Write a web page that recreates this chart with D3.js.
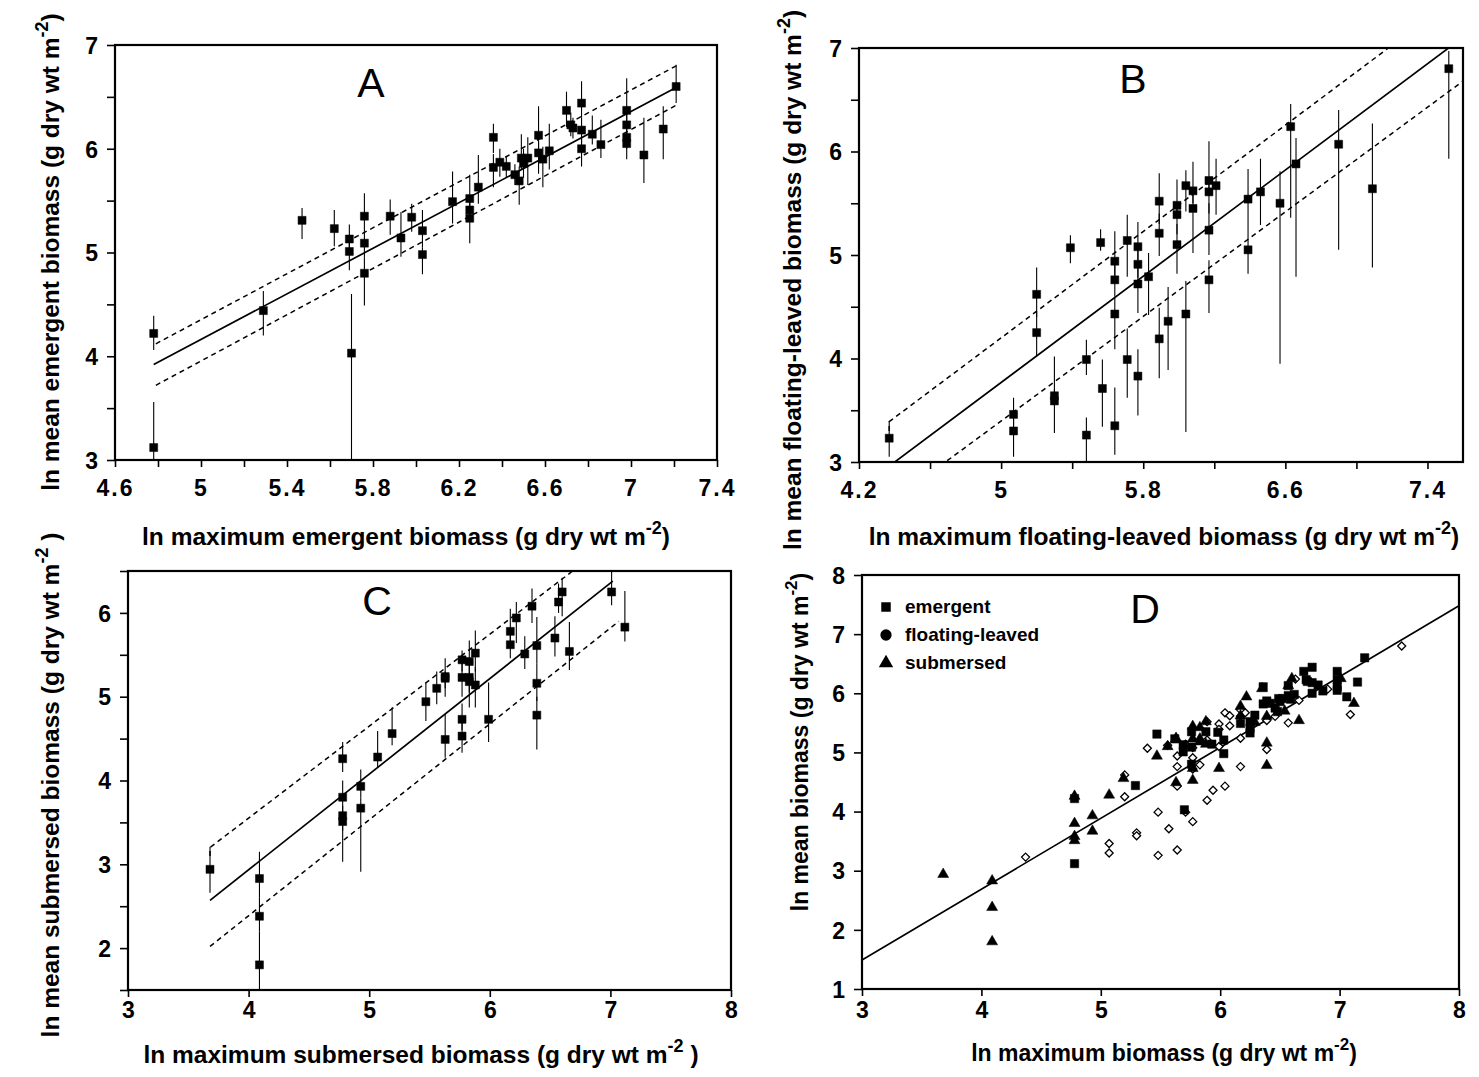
<!DOCTYPE html>
<html>
<head>
<meta charset="utf-8">
<script src="https://d3js.org/d3.v7.min.js"></script>
<style>
  body { margin: 0; background: #fff; }
  text { font-family: "Liberation Sans", Arial, Helvetica, sans-serif; fill: #000; }
</style>
</head>
<body>
<script>
// ---- panel A : emergent ----
var aX  = [4.78,4.78,5.29,5.47,5.62,5.69,5.69,5.70,5.76,5.76,5.76,5.88,5.93,5.98,6.03,6.03,6.17,6.25,6.25,6.25,6.29,6.36,6.36,6.39,6.42,6.46,6.48,6.49,6.50,6.52,6.57,6.57,6.59,6.62,6.70,6.72,6.73,6.77,6.77,6.77,6.82,6.86,6.98,6.98,6.98,6.98,7.06,7.15,7.21];
var aY  = [4.22,3.12,4.44,5.31,5.23,5.13,5.01,4.03,5.35,5.09,4.80,5.35,5.14,5.34,5.21,4.98,5.49,5.52,5.41,5.33,5.63,6.11,5.82,5.87,5.83,5.75,5.69,5.91,5.86,5.91,6.13,5.96,5.90,5.98,6.37,6.23,6.20,6.44,6.18,6.00,6.14,6.04,6.37,6.23,6.11,6.05,5.94,6.19,6.60];
var aLo = [4.06,3.00,4.20,5.13,5.06,5.00,4.83,3.00,5.20,4.95,4.49,5.17,4.96,5.20,5.05,4.79,5.28,5.40,5.30,5.09,5.47,5.96,5.63,5.73,5.72,5.65,5.46,5.80,5.72,5.65,6.00,5.76,5.63,5.80,6.21,6.12,6.10,6.30,6.05,5.83,6.04,5.91,6.25,6.12,6.00,5.90,5.67,5.90,6.44];
var aHi = [4.39,3.56,4.63,5.43,5.41,5.27,5.13,4.60,5.57,5.20,4.95,5.51,5.39,5.47,5.41,5.05,5.78,5.75,5.52,5.41,5.94,6.24,5.95,6.00,5.93,5.85,5.83,6.14,6.00,6.11,6.41,6.06,6.02,6.24,6.55,6.35,6.30,6.65,6.30,6.10,6.32,6.28,6.68,6.37,6.23,6.11,6.30,6.41,6.81];
var aFitX = [4.78, 7.21], aFitY = [3.92, 6.59];
var aBandX = [4.79, 7.22], aUpY = [4.12, 6.81], aLowY = [3.72, 6.43];
var aXTicks = [4.6,4.8,5.0,5.2,5.4,5.6,5.8,6.0,6.2,6.4,6.6,6.8,7.0,7.2,7.4];
var aXLabels = [4.6,5,5.4,5.8,6.2,6.6,7,7.4];

// ---- panel B : floating-leaved ----
var bX  = [4.37,5.07,5.07,5.20,5.20,5.30,5.30,5.39,5.48,5.48,5.56,5.57,5.64,5.64,5.64,5.64,5.71,5.71,5.77,5.77,5.77,5.77,5.83,5.89,5.89,5.89,5.94,5.99,5.99,5.99,6.04,6.04,6.08,6.08,6.17,6.17,6.17,6.17,6.21,6.39,6.39,6.46,6.57,6.63,6.66,6.90,7.09,7.52];
var bY  = [3.23,3.46,3.30,4.62,4.25,3.64,3.59,5.07,3.99,3.26,5.12,3.71,4.94,4.76,4.43,3.35,5.14,3.99,5.08,4.91,4.72,3.83,4.79,5.52,5.21,4.19,4.36,5.48,5.39,5.10,5.67,4.43,5.62,5.45,5.72,5.61,5.24,4.76,5.67,5.54,5.05,5.61,5.50,6.24,5.88,6.07,5.64,6.80];
var bLo = [3.05,3.35,3.05,4.40,4.02,3.55,3.28,4.92,3.84,2.90,5.04,3.34,4.80,4.60,4.09,3.07,4.79,3.62,4.95,4.78,4.44,3.45,4.42,5.30,4.99,3.81,3.89,5.40,5.20,4.82,5.42,3.29,5.50,5.02,5.62,5.40,5.00,4.44,5.39,5.30,4.82,5.29,3.95,5.36,4.79,5.05,4.88,5.93];
var bHi = [3.39,3.62,3.42,4.88,4.45,4.02,3.70,5.19,4.18,3.43,5.25,3.99,5.23,4.94,4.60,3.72,5.39,4.29,5.32,5.08,4.91,4.09,5.02,5.79,5.40,4.49,4.69,5.73,5.48,5.30,5.82,4.75,5.90,5.62,6.10,5.72,5.50,4.95,5.93,5.83,5.30,5.93,5.81,6.46,6.13,6.40,6.27,6.97];
var bFitX = [4.37, 7.55], bFitY = [2.96, 7.04];
var bUpX = [4.37, 4.37, 7.18], bUpY = [3.30, 3.39, 7.00];
var bLowX = [4.37, 7.60], bLowY = [2.60, 6.68];
var bXTicks = [4.2,4.6,5.0,5.4,5.8,6.2,6.6,7.0,7.4];
var bXLabels = [4.2,5,5.8,6.6,7.4];

// ---- panel C : submersed ----
var cX  = [3.68,4.09,4.09,4.09,4.78,4.78,4.78,4.78,4.93,4.93,5.07,5.19,5.47,5.56,5.63,5.63,5.63,5.77,5.77,5.77,5.77,5.83,5.83,5.83,5.88,5.88,5.99,6.17,6.17,6.22,6.29,6.35,6.39,6.39,6.39,6.54,6.57,6.60,6.66,7.01,7.12];
var cY  = [2.94,2.83,2.38,1.80,4.26,3.80,3.58,3.51,3.93,3.67,4.28,4.56,4.94,5.10,5.24,5.22,4.49,5.44,5.23,4.73,4.53,5.42,5.23,5.18,5.52,5.14,4.73,5.78,5.62,5.94,5.51,6.08,5.61,5.16,4.78,5.70,6.13,6.25,5.54,6.25,5.83];
var cLo = [2.66,2.60,2.20,1.50,4.10,3.60,3.40,3.03,3.80,2.91,4.15,4.42,4.71,4.91,5.10,5.00,4.27,5.30,5.00,4.60,4.33,5.30,5.05,4.87,5.30,4.87,4.46,5.62,5.46,5.64,5.33,5.88,5.40,4.95,4.37,5.48,6.00,5.96,5.32,6.09,5.66];
var cHi = [3.21,3.15,2.60,2.20,4.46,4.00,3.70,3.60,4.13,3.80,4.59,4.87,5.16,5.30,5.46,5.30,4.79,5.55,5.40,4.92,4.70,5.67,5.40,5.30,5.79,5.35,5.17,6.05,5.78,6.13,5.72,6.29,5.95,5.40,5.00,5.96,6.35,6.42,5.89,6.51,6.26];
var cFitX = [3.68, 7.02], cFitY = [2.57, 6.38];
var cUpX = [3.68, 3.68, 7.07], cUpY = [3.10, 3.20, 6.92];
var cLowX = [3.68, 7.07], cLowY = [2.02, 5.90];
var cXTicks = [3,4,5,6,7,8];
var cYTicks = [1.5,2,2.5,3,3.5,4,4.5,5,5.5,6,6.5];

// ---- panel D : all ----
var dFitX = [3, 8], dFitY = [1.49, 7.48];
var dXTicks = [3,4,5,6,7,8];
var dYTicks = [1,2,3,4,5,6,7,8];
var legendNames = ["emergent", "floating-leaved", "submersed"];

var yTicks37 = [3,3.5,4,4.5,5,5.5,6,6.5,7];

var width = 1479, height = 1077;
var svg = d3.select("body").append("svg")
    .attr("width", width).attr("height", height);

function zip(xs, ys, lo, hi) {
    return xs.map(function (v, i) {
        return { x: v, y: ys[i], lo: lo ? lo[i] : null, hi: hi ? hi[i] : null };
    });
}

function isLabel(d, labels) {
    return labels.some(function (l) { return Math.abs(l - d) < 1e-6; });
}

function makePanel(p) {
    var x = d3.scaleLinear().domain(p.xDom).range([p.left, p.right]);
    var y = d3.scaleLinear().domain(p.yDom).range([p.bottom, p.top]);
    var g = svg.append("g");

    g.append("clipPath").attr("id", "clip" + p.id).append("rect")
        .attr("x", p.left).attr("y", p.top)
        .attr("width", p.right - p.left).attr("height", p.bottom - p.top);

    // axes
    var xa = g.append("g").attr("transform", "translate(0," + p.bottom + ")")
        .call(d3.axisBottom(x).tickValues(p.xTicks).tickSize(7).tickSizeOuter(0)
            .tickFormat(function (d) { return isLabel(d, p.xLabels) ? String(+d.toFixed(1)) : ""; }));
    var ya = g.append("g").attr("transform", "translate(" + p.left + ",0)")
        .call(d3.axisLeft(y).tickValues(p.yTicks).tickSize(8).tickSizeOuter(0)
            .tickFormat(function (d) { return isLabel(d, p.yLabels) ? String(d) : ""; }));
    [xa, ya].forEach(function (a) {
        a.select(".domain").remove();
        a.selectAll("line").attr("stroke", "#000").attr("stroke-width", 1.6);
        a.selectAll("text").style("font-size", "23px").style("font-weight", "bold");
    });
    xa.selectAll("text").attr("dy", null).attr("y", p.xLabY)
        .attr("letter-spacing", p.spaced ? "2px" : null);
    ya.selectAll("text").attr("x", -17).attr("dy", "0.36em");

    // frame
    g.append("rect")
        .attr("x", p.left).attr("y", p.top)
        .attr("width", p.right - p.left).attr("height", p.bottom - p.top)
        .attr("fill", "none").attr("stroke", "#000").attr("stroke-width", 2.2);

    var plot = g.append("g").attr("clip-path", "url(#clip" + p.id + ")");

    // regression line and confidence bands
    var line = d3.line().x(function (d) { return x(d[0]); }).y(function (d) { return y(d[1]); });
    (p.lines || []).forEach(function (l) {
        plot.append("path")
            .attr("d", line(l.xs.map(function (v, i) { return [v, l.ys[i]]; })))
            .attr("fill", "none").attr("stroke", "#000")
            .attr("stroke-width", l.dash ? 1.5 : 1.7)
            .attr("stroke-dasharray", l.dash ? "5,4" : null);
    });

    // error bars first, then the markers on top
    (p.series || []).forEach(function (s) {
        if (!s.bars) return;
        plot.selectAll(null).data(s.data).enter().append("line")
            .attr("x1", function (d) { return x(d.x); })
            .attr("x2", function (d) { return x(d.x); })
            .attr("y1", function (d) { return y(d.lo); })
            .attr("y2", function (d) { return y(d.hi); })
            .attr("stroke", "#000").attr("stroke-width", 1.1);
    });
    (p.series || []).forEach(function (s) {
        plot.selectAll(null).data(s.data).enter().append("path")
            .attr("transform", function (d) { return "translate(" + x(d.x) + "," + y(d.y) + ")"; })
            .attr("d", d3.symbol().type(s.shape).size(s.size))
            .attr("fill", s.open ? "#fff" : "#000")
            .attr("stroke", "#000").attr("stroke-width", s.open ? 1.3 : 0.5);
    });

    // panel letter
    g.append("text").attr("x", p.letterX).attr("y", p.letterY)
        .attr("text-anchor", "middle").style("font-size", "41px")
        .text(p.letter);

    // axis titles
    axisTitle(g, p.xTitle, p.xTitleX, p.xTitleY, 0, p.titleSize);
    axisTitle(g, p.yTitle, p.yTitleX, p.yTitleY, -90, p.titleSize);
    return { x: x, y: y, g: g };
}

function axisTitle(g, t, cx, cy, rot, fs) {
    var txt = g.append("text")
        .attr("text-anchor", "middle")
        .attr("transform", "translate(" + cx + "," + cy + ") rotate(" + rot + ")")
        .style("font-size", fs + "px").style("font-weight", "bold");
    txt.append("tspan").text(t[0]);
    txt.append("tspan").attr("dy", -11).style("font-size", Math.round(fs * 0.72) + "px").text(t[1]);
    txt.append("tspan").attr("dy", 11).text(t[2]);
}

var squares = d3.symbolSquare, tri = d3.symbolTriangle;
var diamond = {
    draw: function (ctx, size) {
        var r = Math.sqrt(size) / 2;
        ctx.moveTo(0, -r); ctx.lineTo(r, 0); ctx.lineTo(0, r); ctx.lineTo(-r, 0); ctx.closePath();
    }
};

makePanel({
    id: "A", left: 115, right: 717, top: 45, bottom: 460,
    xDom: [4.6, 7.4], yDom: [3, 7],
    xTicks: aXTicks, xLabels: aXLabels, yTicks: yTicks37, yLabels: [3,4,5,6,7],
    xLabY: 36, spaced: true,
    lines: [
        { xs: aFitX, ys: aFitY },
        { xs: aBandX, ys: aUpY, dash: true },
        { xs: aBandX, ys: aLowY, dash: true }
    ],
    series: [{ data: zip(aX, aY, aLo, aHi), shape: squares, size: 64, bars: true }],
    letter: "A", letterX: 371, letterY: 97,
    titleSize: 24.5,
    xTitle: ["ln maximum emergent biomass (g dry wt m", "-2", ")"], xTitleX: 406, xTitleY: 545,
    yTitle: ["ln mean emergent biomass (g dry wt m", "-2", ")"], yTitleX: 59, yTitleY: 252
});

makePanel({
    id: "B", left: 859, right: 1463, top: 48, bottom: 462,
    xDom: [4.2, 7.6], yDom: [3, 7],
    xTicks: bXTicks, xLabels: bXLabels, yTicks: yTicks37, yLabels: [3,4,5,6,7],
    xLabY: 36, spaced: true,
    lines: [
        { xs: bFitX, ys: bFitY },
        { xs: bUpX, ys: bUpY, dash: true },
        { xs: bLowX, ys: bLowY, dash: true }
    ],
    series: [{ data: zip(bX, bY, bLo, bHi), shape: squares, size: 64, bars: true }],
    letter: "B", letterX: 1133, letterY: 93,
    titleSize: 24.5,
    xTitle: ["ln maximum floating-leaved biomass (g dry wt m", "-2", ")"], xTitleX: 1164, xTitleY: 545,
    yTitle: ["ln mean floating-leaved biomass (g dry wt m", "-2", ")"], yTitleX: 801, yTitleY: 280
});

makePanel({
    id: "C", left: 128, right: 731, top: 571, bottom: 990,
    xDom: [3, 8], yDom: [1.5, 6.5],
    xTicks: cXTicks, xLabels: cXTicks, yTicks: cYTicks, yLabels: [2,3,4,5,6],
    xLabY: 28,
    lines: [
        { xs: cFitX, ys: cFitY },
        { xs: cUpX, ys: cUpY, dash: true },
        { xs: cLowX, ys: cLowY, dash: true }
    ],
    series: [{ data: zip(cX, cY, cLo, cHi), shape: squares, size: 64, bars: true }],
    letter: "C", letterX: 377, letterY: 615,
    titleSize: 24.5,
    xTitle: ["ln maximum submersed biomass (g dry wt m", "-2", " )"], xTitleX: 421, xTitleY: 1063,
    yTitle: ["ln mean submersed biomass (g dry wt m", "-2", " )"], yTitleX: 59, yTitleY: 785
});

var dp = makePanel({
    id: "D", left: 862, right: 1459, top: 575, bottom: 989,
    xDom: [3, 8], yDom: [1, 8],
    xTicks: dXTicks, xLabels: dXTicks, yTicks: dYTicks, yLabels: dYTicks,
    xLabY: 29,
    lines: [{ xs: dFitX, ys: dFitY }],
    series: [
        { data: zip(bX, bY), shape: diamond, size: 64, open: true },
        { data: zip(cX, cY), shape: tri, size: 52 },
        { data: zip(aX, aY), shape: squares, size: 70 }
    ],
    letter: "D", letterX: 1145, letterY: 623,
    titleSize: 23,
    xTitle: ["ln maximum biomass (g dry wt m", "-2", ")"], xTitleX: 1164, xTitleY: 1061,
    yTitle: ["ln mean biomass (g dry wt m", "-2", ")"], yTitleX: 808, yTitleY: 742
});

// legend for D
var legShapes = [d3.symbolSquare, d3.symbolCircle, d3.symbolTriangle];
var legSizes = [90, 100, 90];
var leg = dp.g.append("g");
legendNames.forEach(function (name, i) {
    var ly = 607 + i * 28;
    leg.append("path")
        .attr("transform", "translate(886," + ly + ")")
        .attr("d", d3.symbol().type(legShapes[i]).size(legSizes[i]))
        .attr("fill", "#000");
    leg.append("text").attr("x", 905).attr("y", ly + 6)
        .style("font-size", "19px").style("font-weight", "bold")
        .text(name);
});
</script>
</body>
</html>
